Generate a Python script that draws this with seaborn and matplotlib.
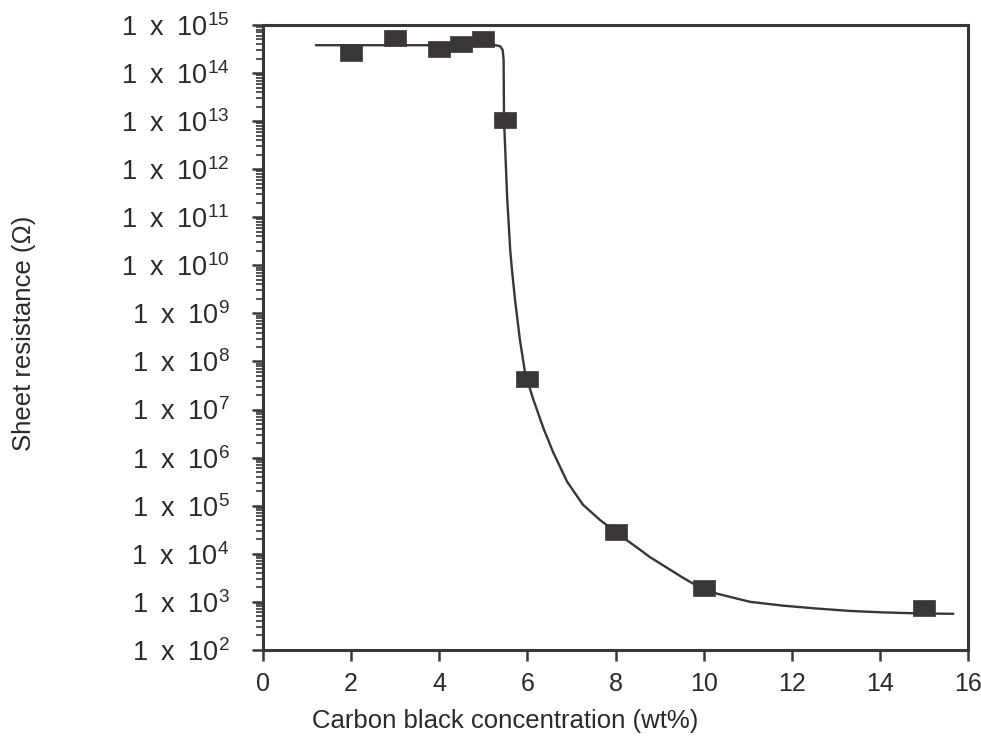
import numpy as np
import pandas as pd
import matplotlib
matplotlib.use("Agg")
import matplotlib.pyplot as plt
from matplotlib.ticker import LogLocator, FixedLocator, NullFormatter
from matplotlib.path import Path
import seaborn as sns

# measured points
conc = [2, 3, 4, 4.5, 5, 5.5, 6, 8, 10, 15]
resistance = [2.6e14, 5.4e14, 3.2e14, 4.0e14, 5.1e14, 1.05e13, 4.4e7, 2.8e4, 1.9e3, 7.5e2]

# fitted curve: x and log10(resistance)
curve_x = [1.2, 3.0, 5.0, 5.27, 5.38, 5.44, 5.46, 5.47, 5.54, 5.61, 5.65, 5.72, 5.83,
           5.95, 6.13, 6.36, 6.58, 6.90, 7.26, 7.65, 8.0, 8.26, 8.56, 8.78, 9.53, 9.87,
           10.30, 11.05, 11.80, 12.57, 13.32, 14.07, 14.84, 15.66]
curve_log = [14.58, 14.58, 14.58, 14.58, 14.56, 14.48, 14.27, 13.02, 11.42, 10.32, 9.90,
             9.28, 8.45, 7.75, 7.22, 6.62, 6.12, 5.50, 5.02, 4.70, 4.46, 4.28, 4.08, 3.93,
             3.50, 3.32, 3.17, 3.00, 2.92, 2.86, 2.81, 2.78, 2.76, 2.75]
curve_y = [10 ** v for v in curve_log]

xticks = [0, 2, 4, 6, 8, 10, 12, 14, 16]
yexp = list(range(2, 16))
ylabels = ["1\u2002x\u200210$^{%d}$" % e for e in yexp]

sns.set_style("ticks")
plt.rcParams["font.family"] = ["Liberation Sans", "DejaVu Sans"]
plt.rcParams["mathtext.fontset"] = "custom"
plt.rcParams["mathtext.rm"] = "Liberation Sans"
plt.rcParams["mathtext.default"] = "regular"

ink = "#3a3636"
txt = "#2a2a2a"
fig = plt.figure(figsize=(9.81, 7.47), dpi=100)
ax = fig.add_axes([0.268, 0.13, 0.719, 0.8365])

curve_df = pd.DataFrame({"x": curve_x, "y": curve_y})
pts_df = pd.DataFrame({"x": conc, "y": resistance})

sns.lineplot(data=curve_df, x="x", y="y", ax=ax, color=ink, lw=1.7, sort=False)
rect = Path([(-1, -0.74), (1, -0.74), (1, 0.74), (-1, 0.74), (-1, -0.74)],
            [Path.MOVETO, Path.LINETO, Path.LINETO, Path.LINETO, Path.CLOSEPOLY])
sns.scatterplot(data=pts_df, x="x", y="y", ax=ax, marker=rect, s=230,
                color=ink, edgecolor=ink, linewidth=0.5, zorder=5)

ax.set_yscale("log")
ax.set_xlim(0, 16)
ax.set_ylim(1e2, 1e15)
ax.xaxis.set_major_locator(FixedLocator(xticks))
ax.set_xticklabels([str(t) for t in xticks])
ax.yaxis.set_major_locator(FixedLocator([10.0 ** e for e in yexp]))
ax.set_yticklabels(ylabels)
ax.yaxis.set_minor_locator(LogLocator(base=10, subs=np.arange(2, 10), numticks=100))
ax.yaxis.set_minor_formatter(NullFormatter())

ax.tick_params(axis="both", which="major", direction="out", length=8, width=1.8,
               color=ink, labelcolor=txt)
ax.tick_params(axis="x", which="major", pad=8, labelsize=18)
ax.tick_params(axis="y", which="major", pad=16, labelsize=19.5)
ax.tick_params(axis="y", which="minor", direction="out", length=5, width=1.2, color=ink)
for s in ax.spines.values():
    s.set_linewidth(2.2)
    s.set_color(ink)

ax.set_xlabel("Carbon black concentration (wt%)", fontsize=18.5, color=txt)
ax.xaxis.set_label_coords(0.343, -0.094)
ax.set_ylabel("Sheet resistance (\u03a9)", fontsize=18.5, color=txt)
ax.yaxis.set_label_coords(-0.322, 0.506)

fig.savefig("out.png", dpi=100)
